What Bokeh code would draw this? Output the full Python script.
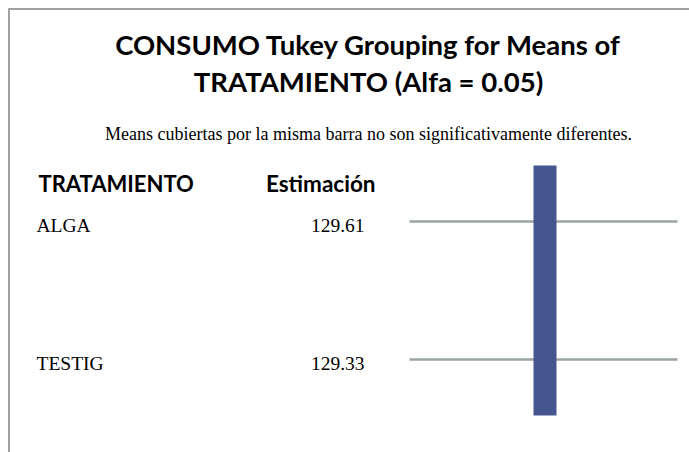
from bokeh.plotting import figure
from bokeh.models import Range1d, ColumnDataSource
from bokeh.core.properties import value
from bokeh.embed import file_html
from bokeh.resources import INLINE

# ---- data ----
title_lines = ["CONSUMO Tukey Grouping for Means of", "TRATAMIENTO (Alfa = 0.05)"]
subtitle = "Means cubiertas por la misma barra no son significativamente diferentes."
col_headers = ["TRATAMIENTO", "Estimación"]
treatments = ["ALGA", "TESTIG"]
estimates = [129.61, 129.33]
group_start = [0]   # first row covered by each grouping bar
group_end = [1]     # last row covered by each grouping bar

# ---- layout (screen-pixel coordinates) ----
W, H = 689, 452
p = figure(width=W, height=H, output_backend="svg", toolbar_location=None,
           x_range=Range1d(0, W), y_range=Range1d(H, 0),
           min_border=0, outline_line_color=None, background_fill_color="white")
p.xaxis.visible = False
p.yaxis.visible = False
p.grid.visible = False

# frame border (top and left)
p.segment(x0=[8, 8.5], y0=[8.5, 8], x1=[W, 8.5], y1=[8.5, H],
          line_color="#a0a0a0", line_width=2)

cx = 368
p.text(x=[cx, cx], y=[44, 81], text=title_lines, text_align="center",
       text_baseline="alphabetic", text_font=value("Lato"), text_font_style="bold",
       text_font_size="27.5px", text_color="black")
p.text(x=[cx], y=[133], text=[subtitle], text_align="center", text_baseline="alphabetic",
       text_font=value("Liberation Serif"), text_font_size="18px", text_color="black")

p.text(x=[38], y=[183], text=[col_headers[0]], text_align="left", text_baseline="alphabetic",
       text_font=value("Lato"), text_font_style="bold", text_font_size="22px", text_color="black")
p.text(x=[375], y=[183], text=[col_headers[1]], text_align="right", text_baseline="alphabetic",
       text_font=value("Lato"), text_font_style="bold", text_font_size="22.5px", text_color="black")

row_top = 221
row_gap = 138
row_y = [row_top + i * row_gap for i in range(len(treatments))]
src = ColumnDataSource(dict(y=row_y, base=[y + 4 for y in row_y], name=treatments,
                            est=[f"{v:.2f}" for v in estimates]))
p.text(x=36, y="base", text="name", source=src, text_align="left", text_baseline="alphabetic",
       text_font=value("Liberation Serif"), text_font_size="19.5px", text_color="black")
p.text(x=364, y="base", text="est", source=src, text_align="right", text_baseline="alphabetic",
       text_font=value("Liberation Serif"), text_font_size="19.5px", text_color="black")

# row lines
p.segment(x0=409, x1=677, y0="y", y1="y", source=src, line_color="#9ba3a3", line_width=2.5)

# grouping bars
bars = ColumnDataSource(dict(
    x=[544.5 for _ in group_start],
    top=[row_y[s] - 56 for s in group_start],
    bottom=[row_y[e] + 56 for e in group_end],
))
p.vbar(x="x", top="top", bottom="bottom", width=23, source=bars,
       fill_color="#44558f", line_color=None)

open("out.html", "w").write(file_html(p, INLINE))
